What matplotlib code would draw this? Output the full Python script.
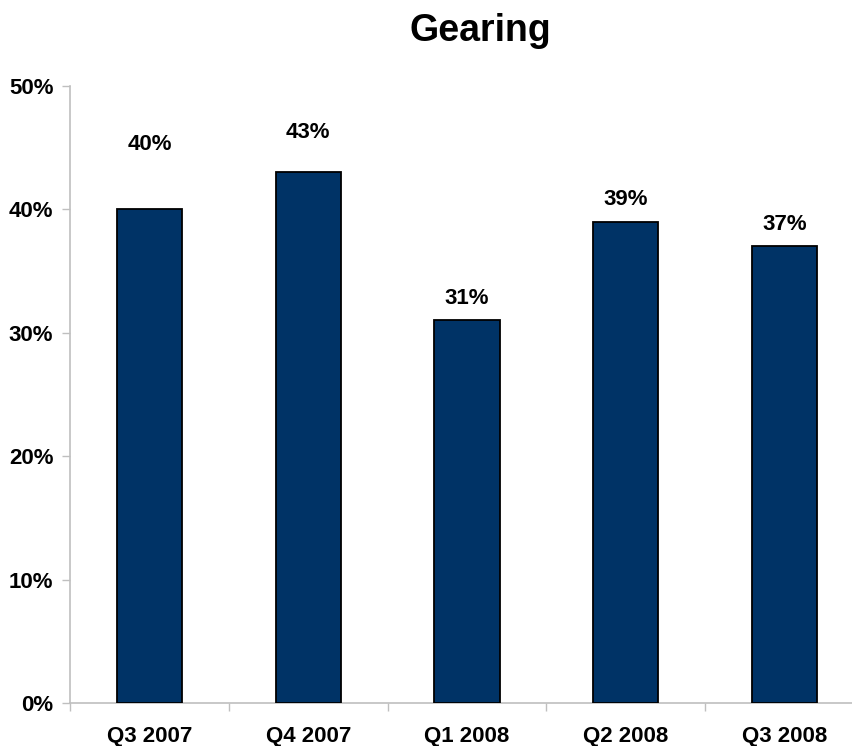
import numpy as np
import matplotlib.pyplot as plt
from matplotlib.ticker import FuncFormatter, FixedLocator

quarters = ['Q3 2007', 'Q4 2007', 'Q1 2008', 'Q2 2008', 'Q3 2008']
gearing = [40, 43, 31, 39, 37]
# label baseline offsets above bar tops, in points
label_offsets = [43, 25, 12, 12, 12]

plt.rcParams['font.family'] = ['Liberation Sans', 'DejaVu Sans']
plt.rcParams['font.weight'] = 'bold'

fig = plt.figure(figsize=(8.53, 7.46), dpi=100)
ax = fig.add_axes([70/853, 43/746, 794/853, 617/746])

x = np.arange(len(quarters))
bars = ax.bar(x, gearing, width=0.41, color='#003366', edgecolor='black', linewidth=1.3, zorder=3)

for b, v, off in zip(bars, gearing, label_offsets):
    ax.annotate(f'{v}%', (b.get_x() + b.get_width()/2, v), xytext=(0, off),
                textcoords='offset points', ha='center', va='baseline',
                fontsize=16, fontweight='bold')

ax.set_xlim(-0.5, len(quarters) - 0.5)
ax.set_ylim(0, 50)
ax.set_yticks(np.arange(0, 51, 10))
ax.yaxis.set_major_formatter(FuncFormatter(lambda v, p: f'{v:.0f}%'))

ax.set_xticks(x)
ax.set_xticklabels(quarters)
ax.xaxis.set_minor_locator(FixedLocator(np.arange(-0.5, len(quarters), 1)))
ax.tick_params(axis='x', which='major', length=0, pad=16.5, labelsize=16)
ax.tick_params(axis='x', which='minor', length=6, width=1, color='#bfbfbf', direction='out')
ax.tick_params(axis='y', length=5.5, width=1, color='#bfbfbf', pad=6.5, labelsize=16)

for s in ['top', 'right']:
    ax.spines[s].set_visible(False)
for s in ['left', 'bottom']:
    ax.spines[s].set_color('#bfbfbf')
    ax.spines[s].set_linewidth(1.2)

fig.text(480/853, 1 - 31/746, 'Gearing', ha='center', va='center',
         fontsize=27, fontweight='bold')

fig.savefig('out.png', dpi=100)
